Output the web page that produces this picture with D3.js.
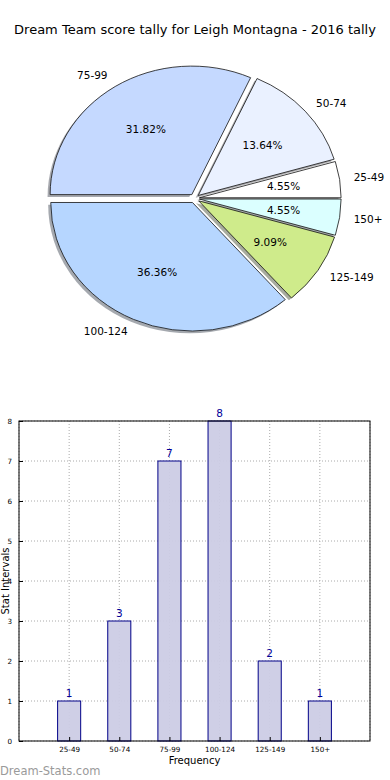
<!DOCTYPE html>
<html><head><meta charset="utf-8">
<script src="https://cdn.jsdelivr.net/npm/d3@7"></script>
<style>body{margin:0;background:#fff}svg{display:block;font-family:"DejaVu Sans",sans-serif}</style>
</head><body>
<script>
const categories = ["25-49","50-74","75-99","100-124","125-149","150+"];
const counts = [1,3,7,8,2,1];
const percentLabels = ["4.55%","13.64%","31.82%","36.36%","9.09%","4.55%"];
const sliceColors = ["#ffffff","#eaf1ff","#c5d9ff","#b6d6ff","#cfeb8b","#dbffff"];
const yTicks = [0,1,2,3,4,5,6,7,8];
const title = "Dream Team score tally for Leigh Montagna - 2016 tally";

const W=390,H=780;
const svg=d3.select("body").append("svg").attr("width",W).attr("height",H);

svg.append("text").attr("x",195).attr("y",34).attr("text-anchor","middle")
  .attr("font-size",13).attr("fill","#000").text(title);

// ---- Pie ----
const cx=194.5, cy=198.4, rx=141.7, ry=128.5, explode=0.035;
const pie=d3.pie().sort(null).startAngle(Math.PI/2).endAngle(Math.PI/2-2*Math.PI);
const arcs=pie(counts);
const arcGen=d3.arc().innerRadius(0).outerRadius(1);
const pg=svg.append("g");
function mid(a){return (a.startAngle+a.endAngle)/2;}
function shade(c){const r=d3.rgb(c);return d3.rgb(r.r*0.3,r.g*0.3,r.b*0.3).toString();}
arcs.forEach((a,i)=>{
  const m=mid(a);
  const ox=cx+explode*rx*Math.sin(m)-0.018*rx, oy=cy-explode*ry*Math.cos(m)+0.018*ry;
  pg.append("path").attr("d",arcGen(a))
    .attr("transform",`translate(${ox},${oy}) scale(${rx},${ry})`)
    .attr("fill",shade(sliceColors[i])).attr("fill-opacity",0.45)
    .attr("stroke","none");
});
arcs.forEach((a,i)=>{
  const m=mid(a);
  const ox=cx+explode*rx*Math.sin(m), oy=cy-explode*ry*Math.cos(m);
  pg.append("path").attr("d",arcGen(a))
    .attr("transform",`translate(${ox},${oy}) scale(${rx},${ry})`)
    .attr("fill",sliceColors[i]).attr("stroke","#111")
    .attr("stroke-width",0.8).attr("vector-effect","non-scaling-stroke");
  const sx=Math.sin(m), sy=-Math.cos(m);
  pg.append("text").attr("x",ox+1.1*rx*sx).attr("y",oy+1.1*ry*sy).attr("dy","0.35em")
    .attr("text-anchor",sx<0?"end":"start").attr("font-size",10.5).text(categories[i]);
  pg.append("text").attr("x",ox+0.6*rx*sx).attr("y",oy+0.6*ry*sy).attr("dy","0.35em")
    .attr("text-anchor","middle").attr("font-size",10.5).text(percentLabels[i]);
});

// ---- Bar chart ----
const L=19,R=370,T=421,B=741;
const x=d3.scaleLinear().domain([-1,6]).range([L,R]);
const y=d3.scaleLinear().domain([0,8]).range([B,T]);
const bg=svg.append("g");
d3.range(-1,7).forEach(v=>{
  bg.append("line").attr("x1",x(v)).attr("x2",x(v)).attr("y1",T).attr("y2",B)
    .attr("stroke","#aaa").attr("stroke-dasharray","1,2");
});
yTicks.forEach(v=>{
  bg.append("line").attr("x1",L).attr("x2",R).attr("y1",y(v)).attr("y2",y(v))
    .attr("stroke","#aaa").attr("stroke-dasharray","1,2");
});
const bw=0.46;
counts.forEach((c,i)=>{
  bg.append("rect").attr("x",x(i-bw/2)).attr("width",x(bw)-x(0))
    .attr("y",y(c)).attr("height",y(0)-y(c))
    .attr("fill","#ccccE5").attr("fill-opacity",0.95).attr("stroke","#000088").attr("stroke-width",1);
  bg.append("text").attr("x",x(i)).attr("y",y(c)-4).attr("text-anchor","middle")
    .attr("font-size",10.5).attr("fill","#000099").text(c);
});
bg.append("rect").attr("x",L).attr("y",T).attr("width",R-L).attr("height",B-T)
  .attr("fill","none").attr("stroke","#000").attr("stroke-width",1);
const xa=d3.axisBottom(x).tickValues(d3.range(0,6)).tickFormat(i=>categories[i]).tickSize(-4).tickPadding(6);
bg.append("g").attr("transform",`translate(0,${B})`).call(xa)
  .call(g=>g.select(".domain").remove())
  .call(g=>g.selectAll("text").attr("font-size",7.2).attr("font-family","DejaVu Sans").attr("fill","#000"));
const ya=d3.axisLeft(y).tickValues(yTicks).tickSize(-4).tickPadding(7);
bg.append("g").attr("transform",`translate(${L},0)`).call(ya)
  .call(g=>g.select(".domain").remove())
  .call(g=>g.selectAll("text").attr("font-size",7.2).attr("font-family","DejaVu Sans").attr("fill","#000"));
svg.append("text").attr("x",194.5).attr("y",764).attr("text-anchor","middle").attr("font-size",10).text("Frequency");
svg.append("text").attr("transform","translate(9,581) rotate(-90)").attr("text-anchor","middle").attr("font-size",10).text("Stat Intervals");
svg.append("text").attr("x",0).attr("y",775).attr("font-size",11.5).attr("fill","#9a9a9a").text("Dream-Stats.com");
</script>
</body></html>
